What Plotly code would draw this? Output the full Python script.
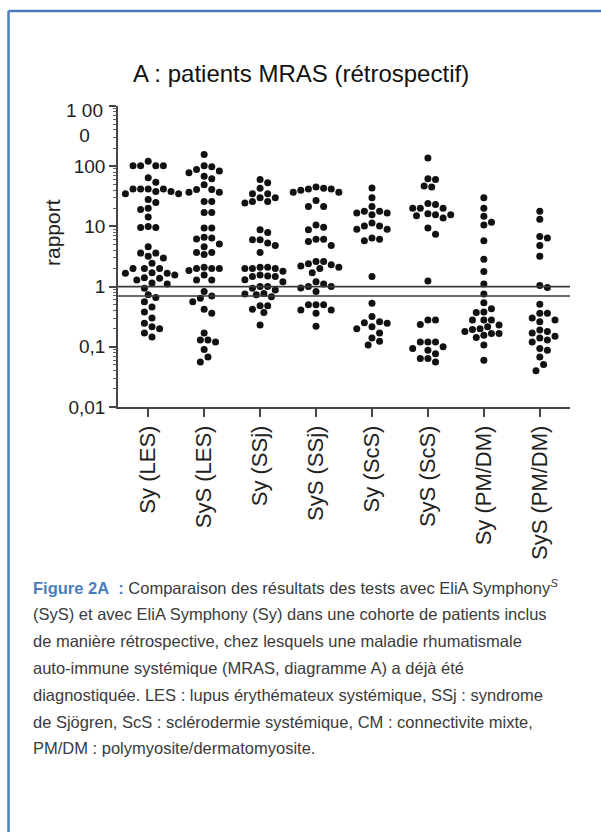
import numpy as np
import plotly.graph_objects as go

# ---------------- data ----------------
categories = ["Sy (LES)", "SyS (LES)", "Sy (SSj)", "SyS (SSj)",
              "Sy (ScS)", "SyS (ScS)", "Sy (PM/DM)", "SyS (PM/DM)"]

sy_les = [121, 102, 102, 102, 102, 64, 54, 42, 42, 38, 35, 35, 38, 42, 42, 25, 28, 20, 19, 14.3,
          9.6, 9.6, 10, 4.6, 3.6, 3.2, 3.0, 3.6, 2.45, 2.0, 2.0, 2.0, 1.7, 1.66, 1.56, 1.66, 1.37,
          1.29, 1.4, 1.15, 1.1, 0.94, 0.73, 0.66, 0.56, 0.46, 0.38, 0.30, 0.245, 0.215, 0.20, 0.17, 0.146]
sys_les = [156, 102, 98, 88, 83, 78, 68, 62, 49, 41, 37, 37, 41, 26, 26, 17, 17, 9.4, 9.4, 6.6,
           6.15, 6.4, 5.1, 4.6, 3.7, 3.4, 3.7, 2.1, 2.0, 2.0, 2.0, 1.85, 1.56, 1.29, 1.29, 0.83,
           0.70, 0.64, 0.56, 0.42, 0.36, 0.17, 0.13, 0.13, 0.12, 0.09, 0.068, 0.056]
sy_ssj = [60, 53, 43, 35, 35, 30, 30, 26, 26, 24.5, 8.8, 7.9, 6.0, 6.0, 5.3, 4.8, 3.7, 2.1, 2.0,
          2.0, 2.0, 2.1, 1.8, 1.5, 1.47, 1.47, 1.56, 1.3, 1.2, 1.0, 0.94, 0.88, 1.0, 0.77, 0.75,
          0.73, 0.68, 0.48, 0.48, 0.42, 0.37, 0.23]
sys_ssj = [45, 42, 40, 37, 37, 42, 43, 27, 21.5, 21.5, 10.6, 8.8, 9.7, 6.1, 5.6, 4.8, 6.1, 2.6,
           2.3, 2.0, 2.1, 2.2, 2.6, 2.4, 1.7, 1.2, 1.1, 1.0, 1.0, 0.95, 0.83, 0.5, 0.5, 0.5, 0.41,
           0.36, 0.41, 0.22]
sy_scs = [43.5, 30, 21.5, 17.8, 17.8, 16.7, 16.7, 15.6, 11.4, 10.2, 9.0, 9.0, 10.2, 6.1, 5.8, 6.4,
          1.47, 0.53, 0.245, 0.26, 0.32, 0.25, 0.215, 0.17, 0.20, 0.14, 0.124, 0.107]
sys_scs = [137, 62, 60, 47, 45, 24, 20, 20, 20, 23, 15.6, 15, 13.8, 15.6, 16.2, 9.4, 7.4, 1.24,
           0.28, 0.235, 0.28, 0.12, 0.10, 0.12, 0.12, 0.094, 0.088, 0.064, 0.056, 0.064, 0.077]
sy_pmdm = [30, 20, 14.7, 10.6, 11.7, 5.8, 2.85, 1.78, 1.1, 0.75, 0.54, 0.43, 0.38, 0.37, 0.28,
           0.28, 0.28, 0.215, 0.194, 0.167, 0.143, 0.167, 0.2, 0.23, 0.18, 0.155, 0.107, 0.06]
sys_pmdm = [17.8, 13.2, 6.8, 6.4, 4.8, 3.2, 0.97, 1.04, 0.51, 0.36, 0.36, 0.28, 0.26, 0.30, 0.19,
            0.18, 0.17, 0.14, 0.12, 0.13, 0.15, 0.088, 0.094, 0.068, 0.051, 0.04]

groups = [sy_les, sys_les, sy_ssj, sys_ssj, sy_scs, sys_scs, sy_pmdm, sys_pmdm]

cutoffs = [1.0, 0.7]

ytick_vals = [0.01, 0.1, 1, 10, 100, 1000]
ytick_text = ["0,01", "0,1", "1", "10", "100", ""]
top_tick_label = "1 00<br>0"

title_text = "A : patients MRAS (rétrospectif)"
ylabel = "rapport"
caption_lines = [
    "<span style='color:#4a7ebb'><b>Figure 2A\u00a0\u00a0:</b></span>\u00a0Comparaison des résultats des tests avec EliA Symphony<sup><i>S</i></sup>",
    "(SyS) et avec EliA Symphony (Sy) dans une cohorte de patients inclus",
    "de manière rétrospective, chez lesquels une maladie rhumatismale",
    "auto-immune systémique (MRAS, diagramme A) a déjà été",
    "diagnostiquée. LES : lupus érythémateux systémique, SSj : syndrome",
    "de Sjögren, ScS : sclérodermie systémique, CM : connectivite mixte,",
    "PM/DM : polymyosite/dermatomyosite.",
]

# ---------------- layout geometry ----------------
W, H = 601, 832
L, R, T, B = 118, 31, 106, 425
PW, PH = W - L - R, H - T - B
XR = [-0.54, 7.54]
YR = [-2, 3]
px_per_cat = PW / (XR[1] - XR[0])
px_per_dec = PH / (YR[1] - YR[0])


def px(xp):
    return (xp - L) / PW


def py(yp):
    return 1 - (yp - T) / PH


def swarm(values, d=7.6, step=0.5):
    """Deterministic beeswarm offsets (in category units)."""
    vals = np.asarray(values, float)
    order = np.argsort(-vals, kind="stable")
    placed = []
    offs = np.zeros(len(vals))
    cands = [0.0]
    for k in range(1, 40):
        cands += [k * step * d, -k * step * d]
    for i in order:
        y = np.log10(vals[i]) * px_per_dec
        for c in cands:
            if all((c - a) ** 2 + (y - b) ** 2 >= d * d for a, b in placed):
                break
        placed.append((c, y))
        offs[i] = c / px_per_cat
    return offs


fig = go.Figure()

xs, ys = [], []
for gi, vals in enumerate(groups):
    o = swarm(vals)
    xs += list(gi + o)
    ys += list(vals)

fig.add_trace(go.Scatter(x=xs, y=ys, mode="markers",
                         marker=dict(size=7, color="#111111", line=dict(width=0)),
                         showlegend=False, hoverinfo="y"))

for c in cutoffs:
    fig.add_trace(go.Scatter(x=XR, y=[c, c], mode="lines",
                             line=dict(color="#3a3a3a", width=1.6),
                             showlegend=False, hoverinfo="skip"))

FAM = "Liberation Sans, Arial, sans-serif"
yfont = dict(family=FAM, size=19, color="#222222")
xfont = dict(family=FAM, size=22, color="#222222")

fig.update_layout(
    width=W, height=H,
    margin=dict(l=L, r=R, t=T, b=B, pad=0),
    paper_bgcolor="white", plot_bgcolor="white",
    font=yfont,
    xaxis=dict(range=XR, tickmode="array", tickvals=list(range(len(categories))),
               ticktext=categories, tickangle=-90, ticks="outside", ticklen=8,
               tickcolor="#444", tickwidth=1.5, showline=True, linecolor="#444",
               linewidth=1.6, showgrid=False, zeroline=False, tickfont=xfont),
    yaxis=dict(type="log", range=YR, tickmode="array", tickvals=ytick_vals,
               ticktext=ytick_text, ticks="outside", ticklen=7, tickcolor="#444",
               tickwidth=1.5, showline=True, linecolor="#444", linewidth=1.6,
               showgrid=False, zeroline=False, tickfont=yfont,
               minor=dict(ticks="outside", ticklen=3.5, tickcolor="#666",
                          tickwidth=1, dtick="D1", showgrid=False)),
)

annotations = [
    dict(text=title_text, x=px(301), y=py(73), xref="paper", yref="paper",
         showarrow=False, xanchor="center", yanchor="middle",
         font=dict(family=FAM, size=24, color="#111")),
    dict(text=ylabel, x=px(52), y=py(233), xref="paper", yref="paper",
         showarrow=False, xanchor="center", yanchor="middle", textangle=-90,
         font=dict(family=FAM, size=21, color="#222")),
    dict(text=top_tick_label, x=px(105), y=py(98), xref="paper", yref="paper",
         showarrow=False, xanchor="right", yanchor="top", align="center",
         font=yfont),
]
cap_y0, cap_dy = 587, 26.9
for i, line in enumerate(caption_lines):
    annotations.append(dict(text=line, x=px(31), y=py(cap_y0 + i * cap_dy),
                            xref="paper", yref="paper", showarrow=False,
                            xanchor="left", yanchor="middle", align="left",
                            font=dict(family=FAM, size=16.5, color="#3a3a3a")))
fig.update_layout(annotations=annotations)

border = "#4a7ebb"
fig.add_shape(type="line", xref="paper", yref="paper", x0=px(8.5), x1=px(8.5),
              y0=py(11), y1=py(840), line=dict(color=border, width=2.5))
fig.add_shape(type="line", xref="paper", yref="paper", x0=px(8.5), x1=px(605),
              y0=py(11), y1=py(11), line=dict(color=border, width=2.5))

fig.write_html("out.html", config={"displayModeBar": False},
               post_script="document.body.style.margin='0px';")
